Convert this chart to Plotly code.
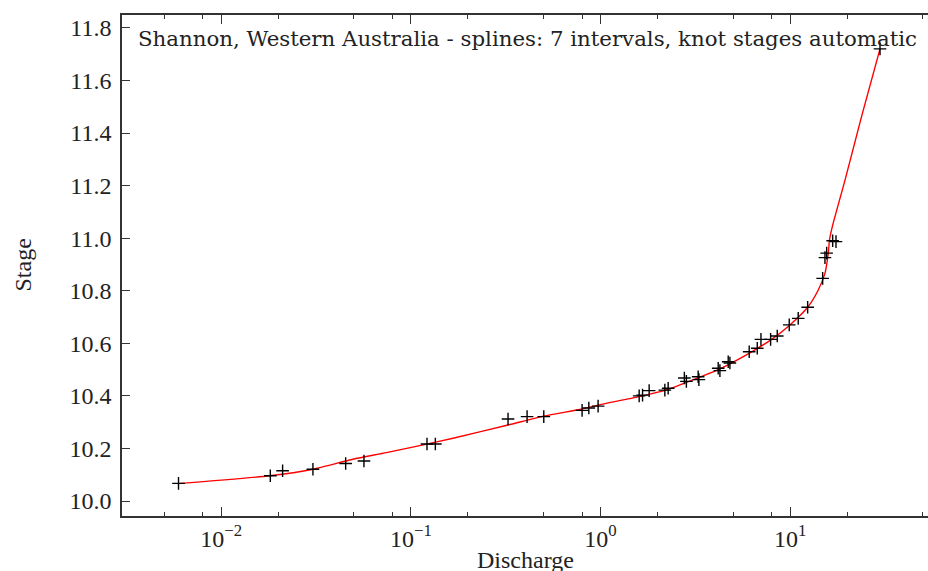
import plotly.graph_objects as go

# Observed gaugings (discharge, stage)
discharge = [0.00595, 0.01814, 0.02106, 0.03044, 0.04529, 0.05655, 0.1216, 0.1346,
             0.3253, 0.4100, 0.5021, 0.7995, 0.8676, 0.9712, 1.599, 1.666, 1.805,
             2.184, 2.274, 2.768, 2.837, 3.273, 3.302, 4.175, 4.262, 4.714, 4.812,
             6.083, 6.707, 7.015, 7.889, 8.551, 9.892, 11.03, 12.37, 14.84, 15.26,
             15.58, 16.76, 17.45, 29.78]
stage = [10.067, 10.096, 10.115, 10.121, 10.143, 10.152, 10.217, 10.217,
         10.312, 10.321, 10.321, 10.345, 10.354, 10.361, 10.400, 10.403, 10.420,
         10.422, 10.429, 10.468, 10.455, 10.473, 10.462, 10.505, 10.496, 10.530, 10.525,
         10.568, 10.581, 10.615, 10.615, 10.628, 10.670, 10.695, 10.737, 10.847, 10.926,
         10.943, 10.990, 10.987, 11.720]

# Fitted spline rating curve
curve_q = [0.005888, 0.01799, 0.03044, 0.04950, 0.07425, 0.1113, 0.1668, 0.3253,
           0.5021, 0.7995, 0.9712, 1.599, 2.274, 3.273, 4.262, 6.135, 7.987, 9.975,
           12.37, 14.07, 15.26, 15.89, 16.12, 16.70, 19.47, 23.93, 29.78]
curve_h = [10.066, 10.096, 10.121, 10.159, 10.184, 10.211, 10.239, 10.289,
           10.323, 10.350, 10.365, 10.397, 10.425, 10.469, 10.503, 10.564, 10.615, 10.670,
           10.737, 10.803, 10.866, 10.943, 10.993, 11.045, 11.221, 11.469, 11.720]

x_major = [0.01, 0.1, 1, 10]
x_major_text = ["10<sup>−2</sup>", "10<sup>−1</sup>", "10<sup>0</sup>", "10<sup>1</sup>"]
x_minor = [0.005, 0.008, 0.02, 0.05, 0.08, 0.2, 0.5, 0.8, 2, 5, 8, 20, 50]
y_ticks = [10.0, 10.2, 10.4, 10.6, 10.8, 11.0, 11.2, 11.4, 11.6, 11.8]
y_text = ["10.0", "10.2", "10.4", "10.6", "10.8", "11.0", "11.2", "11.4", "11.6", "11.8"]

title_text = "Shannon, Western Australia - splines: 7 intervals, knot stages automatic"

FONT = "Liberation Serif"
TFONT = "DejaVu Serif"
AX = "#333333"
TXT = "#222222"

fig = go.Figure()
fig.add_trace(go.Scatter(x=curve_q, y=curve_h, mode="lines",
                         line=dict(color="red", width=1.4, shape="spline", smoothing=0.6),
                         showlegend=False, hoverinfo="skip"))
fig.add_trace(go.Scatter(x=discharge, y=stage, mode="markers",
                         marker=dict(symbol="cross-thin", size=9, color="black",
                                     line=dict(color="black", width=1.4)),
                         showlegend=False))

fig.update_layout(
    width=928, height=571,
    margin=dict(l=122, r=0, t=15, b=55),
    paper_bgcolor="white", plot_bgcolor="white",
    font=dict(family=FONT, size=24, color=TXT),
    xaxis=dict(type="log", range=[-2.5235, 1.727], automargin=False,
               tickmode="array", tickvals=x_major, ticktext=x_major_text,
               ticks="inside", ticklen=9, tickwidth=1.2, tickcolor=AX,
               showline=True, linecolor=AX, linewidth=1.5, mirror="allticks",
               showgrid=False, zeroline=False,
               tickfont=dict(family=FONT, size=24, color=TXT),
               minor=dict(tickmode="array", tickvals=x_minor, ticks="inside",
                          ticklen=4.5, tickwidth=1.0, tickcolor=AX, showgrid=False)),
    yaxis=dict(range=[9.943, 11.849], automargin=False,
               tickmode="array", tickvals=y_ticks, ticktext=y_text,
               ticks="inside", ticklen=8, tickwidth=1.2, tickcolor=AX,
               showline=True, linecolor=AX, linewidth=1.5, mirror=False,
               showgrid=False, zeroline=False, ticklabelstandoff=4,
               tickfont=dict(family=FONT, size=24, color=TXT)),
    annotations=[
        dict(text=title_text, xref="paper", yref="paper", x=0.5, y=1, yshift=-9, xshift=2,
             xanchor="center", yanchor="top", showarrow=False,
             font=dict(family=TFONT, size=21.3, color=TXT)),
        dict(text="Stage", xref="paper", yref="paper", x=0, y=0.5, xshift=-100,
             xanchor="center", yanchor="middle", textangle=-90, showarrow=False,
             font=dict(family=FONT, size=24, color=TXT)),
        dict(text="Discharge", xref="paper", yref="paper", x=0.5, y=0, yshift=-44,
             xanchor="center", yanchor="middle", showarrow=False,
             font=dict(family=FONT, size=24, color=TXT)),
    ],
)

fig.write_html("out.html", config={"displayModeBar": False},
               post_script="document.body.style.margin='0px';document.body.style.overflow='hidden';")
